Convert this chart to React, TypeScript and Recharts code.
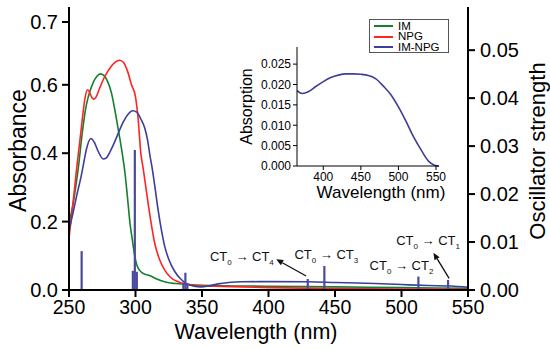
import React from "react";
import {
  ComposedChart,
  LineChart,
  Line,
  Scatter,
  ErrorBar,
  XAxis,
  YAxis,
  ReferenceDot,
  ReferenceLine,
} from "recharts";

// ---------- DATA ----------
const imWavelength = [250, 253, 255, 257, 260, 262.5, 264.5, 268, 271, 273.5, 276, 279, 282, 285, 288, 290, 292, 294, 296, 297.5, 299, 301, 303, 306, 310, 313, 316, 320, 325, 330, 340, 350, 400, 450, 500, 550];
const imAbs = [0.196, 0.25, 0.3, 0.357, 0.46, 0.53, 0.565, 0.605, 0.625, 0.632, 0.628, 0.61, 0.575, 0.515, 0.448, 0.4, 0.345, 0.27, 0.19, 0.15, 0.11, 0.073, 0.058, 0.048, 0.043, 0.038, 0.032, 0.026, 0.021, 0.019, 0.016, 0.014, 0.011, 0.009, 0.007, 0.005];

const npgWavelength = [250, 252, 254, 255.8, 258, 260, 262, 263.7, 265, 266.5, 268.5, 270, 273, 277, 281, 285, 288, 291, 294, 297, 300, 302, 304, 305.7, 309.5, 312, 314.5, 318, 322, 326, 332, 340, 347, 360, 400, 450, 500, 550];
const npgAbs = [0.151, 0.22, 0.29, 0.357, 0.43, 0.5, 0.56, 0.585, 0.582, 0.568, 0.558, 0.562, 0.59, 0.625, 0.65, 0.667, 0.672, 0.665, 0.64, 0.6, 0.565, 0.5, 0.4, 0.357, 0.253, 0.19, 0.136, 0.09, 0.058, 0.038, 0.024, 0.016, 0.012, 0.011, 0.007, 0.004, 0.003, 0.002];

const imNpgWavelength = [250, 253, 256, 259, 261, 263, 266.5, 269, 272, 275.7, 278, 281, 284, 287, 290, 294, 298, 301, 304, 307, 309, 311, 312.5, 315, 317, 319.5, 322, 325, 329.5, 334, 338, 344, 349.5, 355, 362, 370, 380, 400, 430, 450, 480, 500, 520, 537, 550];
const imNpgAbs = [0.175, 0.225, 0.28, 0.33, 0.37, 0.41, 0.443, 0.432, 0.405, 0.383, 0.386, 0.405, 0.43, 0.458, 0.485, 0.512, 0.524, 0.52, 0.5, 0.473, 0.44, 0.39, 0.357, 0.29, 0.234, 0.175, 0.127, 0.09, 0.054, 0.032, 0.0195, 0.011, 0.009, 0.012, 0.018, 0.022, 0.024, 0.0245, 0.024, 0.022, 0.019, 0.016, 0.013, 0.0115, 0.008];

const oscWavelength = [259.5, 298, 299.5, 301, 336, 337.5, 339, 429.5, 442, 512.7, 535];
const oscStrength = [0.0081, 0.004, 0.0292, 0.0038, 0.0015, 0.0036, 0.0013, 0.0023, 0.005, 0.0028, 0.0021];

const insetWavelength = [365, 372, 380, 390, 400, 410, 420, 430, 440, 450, 460, 470, 480, 490, 500, 510, 520, 530, 540, 548, 554];
const insetAbs = [0.0185, 0.0178, 0.0182, 0.0195, 0.0207, 0.0217, 0.0223, 0.0226, 0.0226, 0.0225, 0.0222, 0.0214, 0.0196, 0.0175, 0.0145, 0.011, 0.0072, 0.004, 0.0012, 0.0002, 0.0];

const xTicks = [250, 300, 350, 400, 450, 500, 550];
const leftTickValues = [0, 0.2, 0.4, 0.6, 0.7836];
const leftTickLabels = ["0.0", "0.2", "0.4", "0.6", "0.7"];
const rightTicks = [0, 0.01, 0.02, 0.03, 0.04, 0.05];
const insetXTicks = [400, 450, 500, 550];
const insetYTicks = [0, 0.005, 0.01, 0.015, 0.02, 0.025];

const seriesNames = ["IM", "NPG", "IM-NPG"];
const seriesColors = ["#15802c", "#ff2424", "#3d3d9a"];
const barColor = "#4a4a9e";

// annotations
const annotLabels = ["4", "3", "2", "1"];
const annotX = [380, 443.5, 500, 520];
const annotY = [0.0965, 0.102, 0.07, 0.143];
const arrowFromX = [428.3, 535.8];
const arrowFromY = [0.041, 0.034];
const arrowToX = [405.8, 524];
const arrowToY = [0.0898, 0.109];

// ---------- TABLES ----------
function buildTable() {
  const map = new Map<number, any>();
  const add = (xs: number[], ys: number[], key: string) => {
    xs.forEach((x, i) => {
      const row = map.get(x) || { nm: x };
      row[key] = ys[i];
      map.set(x, row);
    });
  };
  add(imWavelength, imAbs, "im");
  add(npgWavelength, npgAbs, "npg");
  add(imNpgWavelength, imNpgAbs, "imnpg");
  return Array.from(map.values()).sort((a, b) => a.nm - b.nm);
}
const mainData = buildTable();
const oscData = oscWavelength.map((x, i) => ({
  nm: x,
  osc: oscStrength[i],
  stick: [oscStrength[i], 0],
}));
const insetData = insetWavelength.map((x, i) => ({ nm: x, a: insetAbs[i] }));

const FONT = "'Liberation Sans', Arial, sans-serif";

const AnnotText = (label: string) => (p: any) => (
  <text
    x={p.cx}
    y={p.cy + 4}
    textAnchor="middle"
    fontFamily={FONT}
    fontSize={13}
    fill="#111"
  >
    <tspan>CT</tspan>
    <tspan fontSize={8} dy={4}>0</tspan>
    <tspan dy={-4}> {"\u2192"} CT</tspan>
    <tspan fontSize={8} dy={4}>{label}</tspan>
  </text>
);

const ArrowShape = (p: any) => {
  const { x1, y1, x2, y2 } = p;
  const ang = Math.atan2(y2 - y1, x2 - x1);
  const L = 7;
  const W = 3;
  const bx = x2 - L * Math.cos(ang);
  const by = y2 - L * Math.sin(ang);
  const px = -Math.sin(ang) * W;
  const py = Math.cos(ang) * W;
  return (
    <g>
      <line x1={x1} y1={y1} x2={bx} y2={by} stroke="#111" strokeWidth={1.3} />
      <polygon
        points={`${x2},${y2} ${bx + px},${by + py} ${bx - px},${by - py}`}
        fill="#111"
      />
    </g>
  );
};

const LegendBox = () => (
  <div
    style={{
      position: "absolute",
      left: 369,
      top: 19,
      width: 80,
      height: 34,
      boxSizing: "border-box",
      border: "1px solid #555",
      background: "#fff",
      padding: "1px 4px 0 4px",
      fontFamily: FONT,
      fontSize: 11.5,
      lineHeight: "11px",
    }}
  >
    {seriesNames.map((n, i) => (
      <div key={n} style={{ display: "flex", alignItems: "center", height: 10.5 }}>
        <span
          style={{
            display: "inline-block",
            width: 19,
            height: 2,
            background: seriesColors[i],
            marginRight: 5,
          }}
        />
        <span>{n}</span>
      </div>
    ))}
  </div>
);

export default function App() {
  return (
    <div
      style={{
        position: "absolute",
        left: 0,
        top: 0,
        width: 550,
        height: 349,
        background: "#fff",
        fontFamily: FONT,
      }}
    >
      <ComposedChart
        width={550}
        height={349}
        data={mainData}
        margin={{ top: 7, right: 0, left: 0, bottom: 0 }}
      >
        <XAxis
          dataKey="nm"
          type="number"
          domain={[250, 550]}
          ticks={xTicks}
          allowDataOverflow
          height={59}
          tickSize={7}
          tickMargin={3}
          axisLine={{ stroke: "#000", strokeWidth: 2 }}
          tickLine={{ stroke: "#000", strokeWidth: 2 }}
          tick={{ fill: "#000", fontSize: 19.5, fontFamily: FONT }}
        />
        <XAxis
          xAxisId="top"
          dataKey="nm"
          type="number"
          orientation="top"
          domain={[250, 550]}
          height={0}
          tick={false}
          tickLine={false}
          axisLine={{ stroke: "#000", strokeWidth: 2 }}
        />
        <YAxis
          yAxisId="left"
          type="number"
          domain={[0, 0.8275]}
          ticks={leftTickValues}
          tickFormatter={(v: number, i: number) => leftTickLabels[i]}
          width={69}
          tickSize={7}
          tickMargin={4}
          axisLine={{ stroke: "#000", strokeWidth: 2 }}
          tickLine={{ stroke: "#000", strokeWidth: 2 }}
          tick={{ fill: "#000", fontSize: 20, fontFamily: FONT }}
        />
        <YAxis
          yAxisId="right"
          orientation="right"
          type="number"
          domain={[0, 0.059]}
          ticks={rightTicks}
          tickFormatter={(v: number) => v.toFixed(2)}
          width={82}
          tickSize={7}
          tickMargin={5}
          axisLine={{ stroke: "#000", strokeWidth: 2 }}
          tickLine={{ stroke: "#000", strokeWidth: 2 }}
          tick={{ fill: "#000", fontSize: 20, fontFamily: FONT }}
        />
        <Line
          yAxisId="left"
          type="monotone"
          dataKey="im"
          stroke={seriesColors[0]}
          strokeWidth={1.6}
          dot={false}
          connectNulls
          isAnimationActive={false}
        />
        <Line
          yAxisId="left"
          type="monotone"
          dataKey="npg"
          stroke={seriesColors[1]}
          strokeWidth={1.6}
          dot={false}
          connectNulls
          isAnimationActive={false}
        />
        <Line
          yAxisId="left"
          type="monotone"
          dataKey="imnpg"
          stroke={seriesColors[2]}
          strokeWidth={1.6}
          dot={false}
          connectNulls
          isAnimationActive={false}
        />
        <Scatter
          yAxisId="right"
          data={oscData}
          dataKey="osc"
          fill={barColor}
          shape={() => <g />}
          isAnimationActive={false}
        >
          <ErrorBar
            dataKey="stick"
            direction="y"
            width={0}
            stroke={barColor}
            strokeWidth={2.2}
            isAnimationActive={false}
          />
        </Scatter>
        {annotLabels.map((lab, i) => (
          <ReferenceDot
            key={"a" + i}
            yAxisId="left"
            x={annotX[i]}
            y={annotY[i]}
            r={0}
            shape={AnnotText(lab)}
          />
        ))}
        {arrowFromX.map((x, i) => (
          <ReferenceLine
            key={"r" + i}
            yAxisId="left"
            segment={[
              { x: x, y: arrowFromY[i] },
              { x: arrowToX[i], y: arrowToY[i] },
            ]}
            shape={ArrowShape}
          />
        ))}
      </ComposedChart>

      <LegendBox />

      {/* Inset */}
      <div style={{ position: "absolute", left: 230, top: 40 }}>
        <LineChart
          width={220}
          height={160}
          data={insetData}
          margin={{ top: 7, right: 11, left: 0, bottom: 0 }}
        >
          <XAxis
            dataKey="nm"
            type="number"
            domain={[365, 554]}
            ticks={insetXTicks}
            allowDataOverflow
            height={34}
            tickSize={4}
            tickMargin={2}
            axisLine={{ stroke: "#000", strokeWidth: 1 }}
            tickLine={{ stroke: "#000", strokeWidth: 1 }}
            tick={{ fill: "#000", fontSize: 12, fontFamily: FONT }}
          />
          <YAxis
            type="number"
            domain={[0, 0.0292]}
            ticks={insetYTicks}
            tickFormatter={(v: number) => v.toFixed(3)}
            width={67}
            tickSize={4}
            tickMargin={2}
            axisLine={{ stroke: "#000", strokeWidth: 1 }}
            tickLine={{ stroke: "#000", strokeWidth: 1 }}
            tick={{ fill: "#000", fontSize: 12, fontFamily: FONT }}
          />
          <Line
            type="monotone"
            dataKey="a"
            stroke={seriesColors[2]}
            strokeWidth={1.6}
            dot={false}
            isAnimationActive={false}
          />
        </LineChart>
      </div>

      {/* Axis titles */}
      <svg
        width={550}
        height={349}
        style={{ position: "absolute", left: 0, top: 0, pointerEvents: "none" }}
      >
        <text
          x={18}
          y={150.5}
          transform="rotate(-90 18 150.5)"
          textAnchor="middle"
          dominantBaseline="central"
          fontFamily={FONT}
          fontSize={23}
          fill="#000"
        >
          Absorbance
        </text>
        <text
          x={537}
          y={151}
          transform="rotate(-90 537 151)"
          textAnchor="middle"
          dominantBaseline="central"
          fontFamily={FONT}
          fontSize={22}
          fill="#000"
        >
          Oscillator strength
        </text>
        <text
          x={256}
          y={339}
          textAnchor="middle"
          fontFamily={FONT}
          fontSize={21.5}
          fill="#000"
        >
          Wavelength (nm)
        </text>
        <text
          x={246}
          y={106.5}
          transform="rotate(-90 246 106.5)"
          textAnchor="middle"
          dominantBaseline="central"
          fontFamily={FONT}
          fontSize={16}
          fill="#000"
        >
          Absorption
        </text>
        <text
          x={381}
          y={198}
          textAnchor="middle"
          fontFamily={FONT}
          fontSize={17}
          fill="#000"
        >
          Wavelength (nm)
        </text>
      </svg>
    </div>
  );
}
